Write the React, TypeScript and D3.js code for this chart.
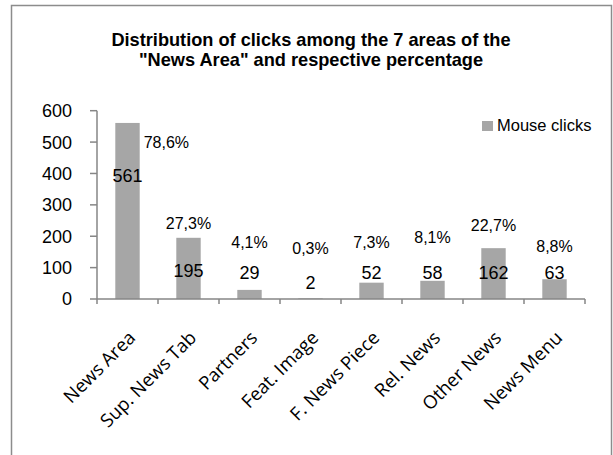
import React from "react";
import * as d3 from "d3";

const categories = [
  "News Area",
  "Sup. News Tab",
  "Partners",
  "Feat. Image",
  "F. News Piece",
  "Rel. News",
  "Other News",
  "News Menu",
];
const clicks = [561, 195, 29, 2, 52, 58, 162, 63];
const percentages = ["78,6%", "27,3%", "4,1%", "0,3%", "7,3%", "8,1%", "22,7%", "8,8%"];
// Heights (in click units) at which the data labels sit
const valueLabelAt = [392, 92, 83, 51, 83, 83, 83, 83];
const percentLabelAt = [500, 242, 182, 163, 182, 198, 236, 169];
const yTicks = [0, 100, 200, 300, 400, 500, 600];
const titleLines = [
  "Distribution of clicks among the 7 areas of the",
  "\"News Area\" and respective percentage",
];
const seriesName = "Mouse clicks";

const W = 613;
const H = 455;
const BAR = "#a6a6a6";
const AXIS = "#868686";
const SANS = "'Liberation Sans', Arial, sans-serif";
const CAT_FONT = "'Open Sans', 'Noto Sans', sans-serif";

export default function App() {
  const x = d3
    .scaleBand<string>()
    .domain(categories)
    .range([97, 585])
    .paddingInner(0.6)
    .paddingOuter(0.3);
  const y = d3.scaleLinear().domain([0, 600]).range([299, 110.7]);
  const step = x.step();
  const edges = d3.range(categories.length + 1).map((i) => 97 + i * step);

  return (
    <svg
      width={W}
      height={H}
      style={{ position: "absolute", left: 0, top: 0, background: "#fff" }}
    >
      <rect x={0} y={0} width={W} height={H} fill="#fff" />
      <rect
        x={11.5}
        y={5.5}
        width={600}
        height={460}
        fill="none"
        stroke="#8c8c8c"
        strokeWidth={1.5}
      />

      {titleLines.map((t, i) => (
        <text
          key={t}
          x={311}
          y={46 + i * 20}
          textAnchor="middle"
          fontFamily={SANS}
          fontWeight="bold"
          fontSize={18.2}
          fill="#000"
        >
          {t}
        </text>
      ))}

      {/* bars */}
      {categories.map((c, i) => (
        <rect
          key={c}
          x={x(c)}
          y={y(clicks[i])}
          width={x.bandwidth()}
          height={y(0) - y(clicks[i])}
          fill={BAR}
        />
      ))}

      {/* y axis */}
      <line x1={97} x2={97} y1={y(600)} y2={y(0)} stroke={AXIS} strokeWidth={1.5} />
      {yTicks.map((t) => (
        <g key={t}>
          <line x1={90} x2={97} y1={y(t)} y2={y(t)} stroke={AXIS} strokeWidth={1.5} />
          <text
            x={72}
            y={y(t)}
            dy="0.36em"
            textAnchor="end"
            fontFamily={SANS}
            fontSize={18}
            fill="#000"
          >
            {t}
          </text>
        </g>
      ))}

      {/* x axis */}
      <line x1={97} x2={585} y1={y(0)} y2={y(0)} stroke={AXIS} strokeWidth={1.5} />
      {edges.map((e, i) => (
        <line key={i} x1={e} x2={e} y1={y(0)} y2={y(0) + 5} stroke={AXIS} strokeWidth={1.5} />
      ))}
      {categories.map((c) => {
        const cx = (x(c) as number) + x.bandwidth() / 2;
        return (
          <text
            key={c}
            transform={`translate(${cx + 9},${339}) rotate(-45)`}
            textAnchor="end"
            fontFamily={CAT_FONT}
            fontSize={18.5}
            fill="#000"
          >
            {c}
          </text>
        );
      })}

      {/* data labels */}
      {categories.map((c, i) => {
        const cx = (x(c) as number) + x.bandwidth() / 2;
        return (
          <text
            key={c}
            x={cx}
            y={y(valueLabelAt[i])}
            dy="0.36em"
            textAnchor="middle"
            fontFamily={SANS}
            fontSize={18}
            fill="#000"
          >
            {clicks[i]}
          </text>
        );
      })}
      {categories.map((c, i) => {
        const cx = (x(c) as number) + x.bandwidth() / 2;
        const first = i === 0;
        return (
          <text
            key={c}
            x={first ? (x(c) as number) + x.bandwidth() + 4 : cx}
            y={y(percentLabelAt[i])}
            dy="0.36em"
            textAnchor={first ? "start" : "middle"}
            fontFamily={SANS}
            fontSize={16}
            fill="#000"
          >
            {percentages[i]}
          </text>
        );
      })}

      {/* legend */}
      <rect x={482} y={121} width={11} height={10} fill={BAR} />
      <text x={497} y={131} fontFamily={SANS} fontSize={16.5} fill="#000">
        {seriesName}
      </text>
    </svg>
  );
}
